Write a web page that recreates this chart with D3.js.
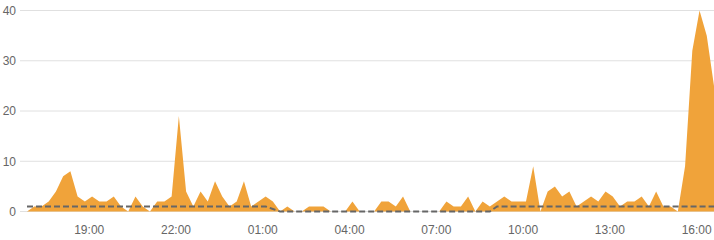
<!DOCTYPE html>
<html>
<head>
<meta charset="utf-8">
<script src="https://cdn.jsdelivr.net/npm/d3@7"></script>
<style>
  body { margin: 0; background: #fff; }
  svg { display: block; font-family: "Liberation Sans", Arial, sans-serif; }
  .tick text { fill: #666; font-size: 12px; }
</style>
</head>
<body>
<div class="main"></div>
<script>
////Data: counts every 15 minutes, starting 16:52
const startTime = new Date(2024, 0, 1, 16, 52);
const stepMinutes = 15;
const counts = [
  0, 1, 1, 2, 4, 7, 8, 3, 2, 3,
  2, 2, 3, 1, 0, 3, 1, 0, 2, 2,
  3, 19, 4, 1, 4, 2, 6, 3, 1, 2,
  6, 1, 2, 3, 2, 0, 1, 0, 0, 1,
  1, 1, 0, 0, 0, 2, 0, 0, 0, 2,
  2, 1, 3, 0, 0, 0, 0, 0, 2, 1,
  1, 3, 0, 2, 1, 2, 3, 2, 2, 2,
  9, 0, 4, 5, 3, 4, 1, 2, 3, 2,
  4, 3, 1, 2, 2, 3, 1, 4, 1, 1,
  0, 9, 32, 40, 35, 25
];
const baseline = [
  1, 1, 1, 1, 1, 1, 1, 1, 1, 1,
  1, 1, 1, 1, 1, 1, 1, 1, 1, 1,
  1, 1, 1, 1, 1, 1, 1, 1, 1, 1,
  1, 1, 1, 1, 0.5, 0, 0, 0, 0, 0,
  0, 0, 0, 0, 0, 0, 0, 0, 0, 0,
  0, 0, 0, 0, 0, 0, 0, 0, 0, 0,
  0, 0, 0, 0, 0, 1, 1, 1, 1, 1,
  1, 1, 1, 1, 1, 1, 1, 1, 1, 1,
  1, 1, 1, 1, 1, 1, 1, 1, 1, 1,
  1, 1, 1, 1, 1, 1
];
const yTicks = [0, 10, 20, 30, 40];
const tickHours = [19, 22, 25, 28, 31, 34, 37, 40]; // hours from day start -> 19:00 ... 16:00

////Global Variables
const width = 714;
const height = 240;

const data = counts.map((v, i) => ({
  t: new Date(startTime.getTime() + i * stepMinutes * 60000),
  v: v,
  b: baseline[i]
}));

const svg = d3.select('.main').append('svg')
  .attr('width', width)
  .attr('height', height);

const xScale = d3.scaleTime()
  .domain(d3.extent(data, d => d.t))
  .range([27, 714]);

const yScale = d3.scaleLinear()
  .domain([0, 40])
  .range([211.5, 10.5]);

////Grid
svg.append('g')
  .selectAll('line')
  .data(yTicks)
  .enter()
  .append('line')
  .attr('x1', 20)
  .attr('x2', width)
  .attr('y1', d => yScale(d))
  .attr('y2', d => yScale(d))
  .attr('stroke', '#e0e0e0')
  .attr('stroke-width', 1);

////Area
const area = d3.area()
  .x(d => xScale(d.t))
  .y0(yScale(0))
  .y1(d => yScale(d.v));

svg.append('path')
  .datum(data)
  .attr('fill', '#f0a33a')
  .attr('d', area);

////Dashed baseline
const line = d3.line()
  .x(d => xScale(d.t))
  .y(d => yScale(d.b));

svg.append('path')
  .datum(data)
  .attr('fill', 'none')
  .attr('stroke', '#666')
  .attr('stroke-width', 2)
  .attr('stroke-dasharray', '6,3')
  .attr('d', line);

////Axes
const day0 = new Date(2024, 0, 1);
const xAxis = d3.axisBottom(xScale)
  .tickValues(tickHours.map(h => d3.timeHour.offset(day0, h)))
  .tickFormat(d3.timeFormat('%H:%M'))
  .tickSize(0)
  .tickPadding(0);

const yAxis = d3.axisLeft(yScale)
  .tickValues(yTicks)
  .tickSize(0)
  .tickPadding(0);

svg.append('g')
  .attr('transform', 'translate(0, 225)')
  .call(xAxis)
  .call(g => g.select('.domain').remove());

svg.append('g')
  .attr('transform', 'translate(16, 0)')
  .call(yAxis)
  .call(g => g.select('.domain').remove());
</script>
</body>
</html>
